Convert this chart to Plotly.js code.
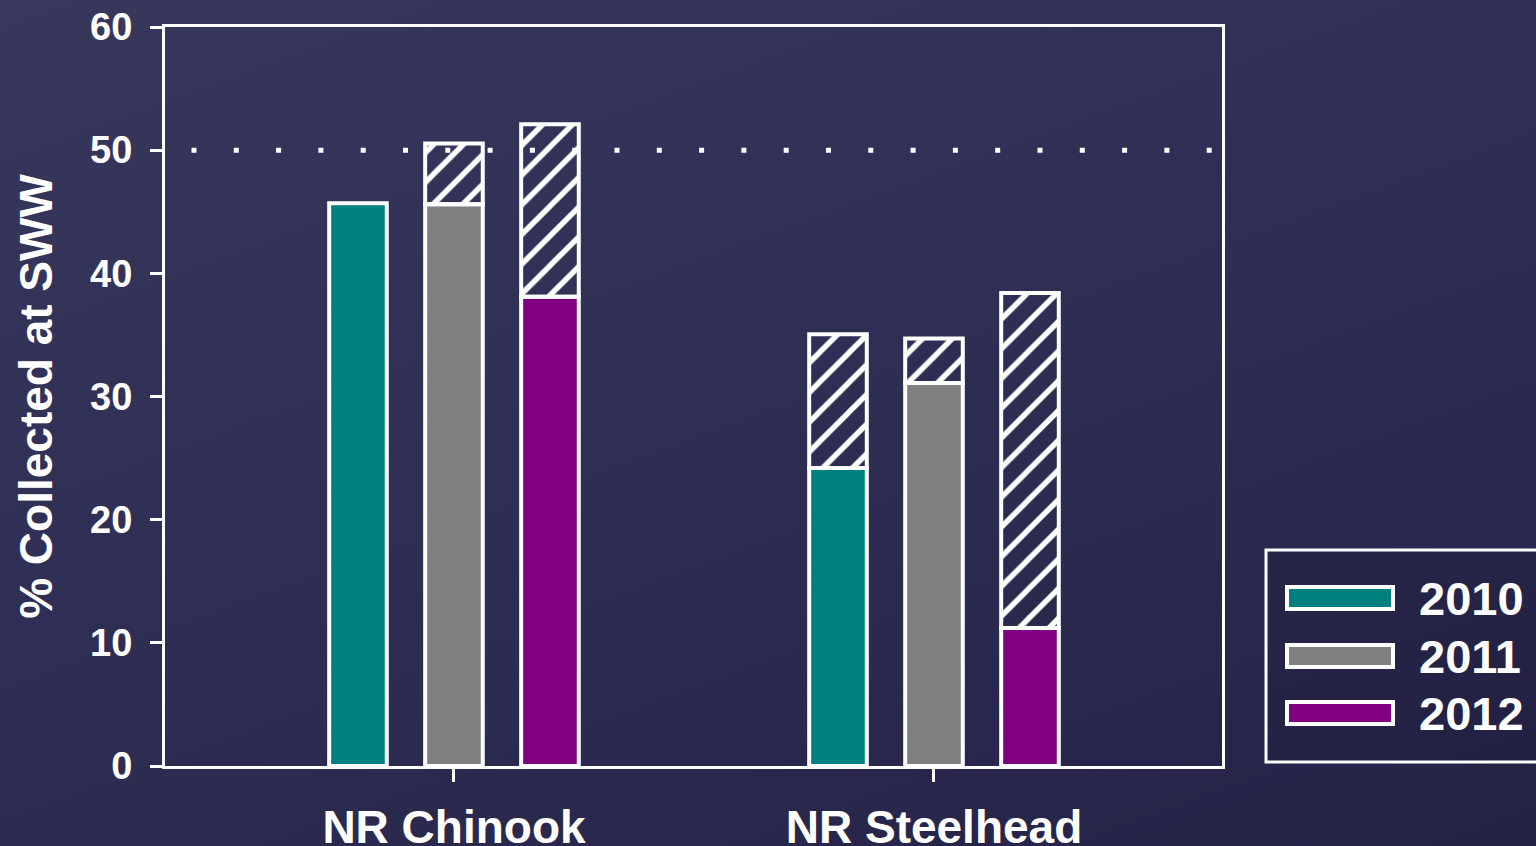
<!DOCTYPE html>
<html>
<head>
<meta charset="utf-8">
<script src="https://cdn.plot.ly/plotly-3.0.1.min.js"></script>
<style>
  html, body { margin: 0; padding: 0; width: 1536px; height: 846px; overflow: hidden; }
  body { background: linear-gradient(160deg, #38375c 0%, #2f2e54 45%, #242346 100%); }
  #chart { width: 1536px; height: 846px; }
</style>
</head>
<body>
<div id="chart"></div>
<script>
// Stocks (x categories) and release years
const categories = ['NR Chinook', 'NR Steelhead'];
const years = ['2010', '2011', '2012'];
const yearColors = ['#008080', '#808080', '#800080'];

// Solid part of each bar: % collected at SWW, per year, [Chinook, Steelhead]
const solid2010 = [45.7, 24.2];
const solid2011 = [45.6, 31.1];
const solid2012 = [38.1, 11.2];

// Top of the hatched extension, per year, [Chinook, Steelhead]
const total2010 = [45.7, 35.05];
const total2011 = [50.55, 34.7];
const total2012 = [52.1, 38.4];

const yTicks = [0, 10, 20, 30, 40, 50, 60];
const referenceLevel = 50;

const solids = [solid2010, solid2011, solid2012];
const totals = [total2010, total2011, total2012];

const W = 1536, H = 846;
const M = { l: 165, r: 314, t: 27, b: 80 };
const plotW = W - M.l - M.r, plotH = H - M.t - M.b;
const px2x = p => (p - M.l) / plotW;          // pixel -> paper x
const px2y = p => (H - M.b - p) / plotH;      // pixel -> paper y

const font = 'Liberation Sans, Arial, sans-serif';
const barWidth = 0.12;
const barStep = 0.2;
const xPos = categories.map((_, i) => i);

const traces = [];
years.forEach((yr, i) => {
  const offset = -barWidth / 2 + (i - 1) * barStep;
  traces.push({
    type: 'bar', name: yr, x: xPos, y: solids[i],
    width: barWidth, offset: offset,
    marker: { color: yearColors[i], line: { color: '#ffffff', width: 4 } },
    showlegend: false, hoverinfo: 'skip'
  });
  const extra = totals[i].map((t, k) => (t - solids[i][k] > 0 ? t - solids[i][k] : null));
  traces.push({
    type: 'bar', name: yr + ' extra', x: xPos, y: extra, base: solids[i],
    width: barWidth, offset: offset,
    marker: {
      color: 'rgba(0,0,0,0)',
      line: { color: '#ffffff', width: 4 },
      pattern: { shape: '/', fgcolor: '#ffffff', bgcolor: 'rgba(0,0,0,0)', size: 21, solidity: 0.26, fillmode: 'replace' }
    },
    showlegend: false, hoverinfo: 'skip'
  });
});

// Dotted 50% reference line, and the legend drawn as shapes + text
const shapes = [
  {
    type: 'line', xref: 'paper', yref: 'y',
    x0: px2x(191.5), x1: px2x(1213), y0: referenceLevel, y1: referenceLevel,
    line: { color: '#ffffff', width: 5, dash: '5px,37.3px' }, layer: 'below'
  },
  {
    type: 'rect', xref: 'paper', yref: 'paper',
    x0: px2x(1266), x1: px2x(1560), y0: px2y(762), y1: px2y(550),
    line: { color: '#ffffff', width: 3 }, fillcolor: 'rgba(20,20,50,0.15)'
  }
];
const annotations = [];
const rowCenters = [598, 656, 713];
years.forEach((yr, i) => {
  shapes.push({
    type: 'rect', xref: 'paper', yref: 'paper',
    x0: px2x(1287), x1: px2x(1393), y0: px2y(rowCenters[i] + 11), y1: px2y(rowCenters[i] - 11),
    line: { color: '#ffffff', width: 4 }, fillcolor: yearColors[i]
  });
  annotations.push({
    xref: 'paper', yref: 'paper', x: px2x(1417), y: px2y(rowCenters[i]),
    xanchor: 'left', yanchor: 'middle', text: yr, showarrow: false,
    font: { family: font, size: 47, color: '#ffffff', weight: 'bold' }
  });
});

const layout = {
  width: W, height: H,
  margin: M,
  paper_bgcolor: 'rgba(0,0,0,0)',
  plot_bgcolor: 'rgba(0,0,0,0)',
  barmode: 'overlay',
  showlegend: false,
  font: { family: font, color: '#ffffff', weight: 'bold' },
  xaxis: {
    type: 'linear', range: [-0.602, 1.6],
    tickvals: xPos, ticktext: categories,
    ticks: 'outside', ticklen: 13, tickwidth: 3, tickcolor: '#ffffff',
    showline: true, linecolor: '#ffffff', linewidth: 3, mirror: true,
    showgrid: false, zeroline: false,
    tickfont: { family: font, size: 46, color: '#ffffff', weight: 'bold' },
    ticklabelstandoff: 6
  },
  yaxis: {
    range: [0, 60], tickvals: yTicks,
    ticks: 'outside', ticklen: 12, tickwidth: 3, tickcolor: '#ffffff',
    showline: true, linecolor: '#ffffff', linewidth: 3, mirror: true,
    showgrid: false, zeroline: false,
    tickfont: { family: font, size: 38, color: '#ffffff', weight: 'bold' },
    ticklabelstandoff: 10,
    title: { text: '% Collected at SWW', standoff: 24, font: { family: font, size: 46, color: '#ffffff', weight: 'bold' } },
    automargin: false
  },
  shapes: shapes,
  annotations: annotations
};

Plotly.newPlot('chart', traces, layout, { staticPlot: true, displayModeBar: false });
</script>
</body>
</html>
